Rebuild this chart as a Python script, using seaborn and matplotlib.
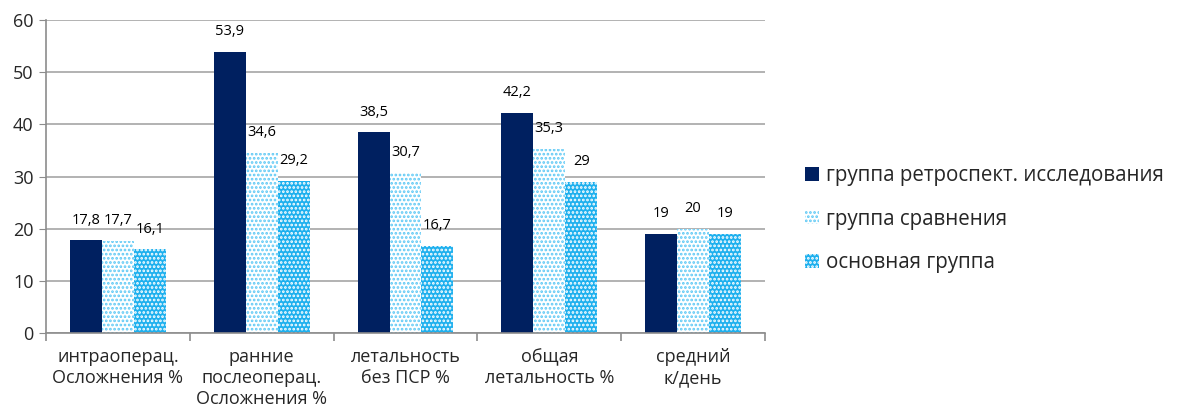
import matplotlib
matplotlib.use("Agg")
import matplotlib.pyplot as plt
import numpy as np
import pandas as pd
import seaborn as sns
from matplotlib.patches import Patch

categories = [
    "интраоперац.\nОсложнения %",
    "ранние\nпослеоперац.\nОсложнения %",
    "летальность\nбез ПСР %",
    "общая\nлетальность %",
    "средний\nк/день",
]
groups = ["группа ретроспект. исследования", "группа сравнения", "основная группа"]
retro = [17.8, 53.9, 38.5, 42.2, 19]
compare = [17.7, 34.6, 30.7, 35.3, 20]
main = [16.1, 29.2, 16.7, 29, 19]
value_labels = [
    ["17,8", "53,9", "38,5", "42,2", "19"],
    ["17,7", "34,6", "30,7", "35,3", "20"],
    ["16,1", "29,2", "16,7", "29", "19"],
]

df = pd.DataFrame({
    "category": categories * 3,
    "group": [g for g in groups for _ in categories],
    "value": retro + compare + main,
})

sns.set_style("white")
plt.rcParams["font.family"] = ["Open Sans", "DejaVu Sans"]
plt.rcParams["hatch.linewidth"] = 1.3

fig = plt.figure(figsize=(11.81, 4.19), dpi=100)
ax = fig.add_axes([46 / 1181, 1 - 333 / 419, (765 - 46) / 1181, (333 - 20) / 419])

face = ["#002060", "#ffffff", "#1eb0ee"]
edge = ["#002060", "#5cc8f5", "#ffffff"]
hatch = [None, "....", "...."]

sns.barplot(data=df, x="category", y="value", hue="group", hue_order=groups,
            width=0.667, gap=0, palette=face, ax=ax, legend=False, saturation=1)

for i, cont in enumerate(ax.containers):
    for j, bar in enumerate(cont):
        bar.set_facecolor(face[i])
        bar.set_edgecolor(edge[i])
        bar.set_linewidth(0)
        if hatch[i]:
            bar.set_hatch(hatch[i])
        ax.annotate(value_labels[i][j], (bar.get_x() + bar.get_width() / 2, bar.get_height()),
                    xytext=(0, 9), textcoords="offset points", ha="center", va="bottom",
                    fontsize=10.5, color="#000000")

ax.set_ylim(0, 60)
ax.set_xlim(-0.5, len(categories) - 0.5)
ax.set_yticks(np.arange(0, 61, 10))
ax.yaxis.grid(True, color="#a6a6a6", linewidth=1.2)
ax.set_axisbelow(True)
for s in ["top", "right"]:
    ax.spines[s].set_visible(False)
for s in ["left", "bottom"]:
    ax.spines[s].set_color("#8c8c8c")
    ax.spines[s].set_linewidth(1.2)
ax.set_xlabel("")
ax.set_ylabel("")
ax.tick_params(axis="y", left=True, length=5, color="#8c8c8c", labelsize=13, pad=4)
ax.tick_params(axis="x", which="major", length=0, labelsize=13, pad=11)
ax.set_xticks(np.arange(-0.5, len(categories)), minor=True)
ax.tick_params(axis="x", which="minor", bottom=True, length=6, color="#8c8c8c", width=1.2)
ax.set_xticks(range(len(categories)))
ax.set_xticklabels(categories, linespacing=1.2)

handles = [Patch(facecolor=face[i], edgecolor=edge[i], hatch=hatch[i], linewidth=0) for i in range(3)]
fig.legend(handles, groups, loc="upper left", bbox_to_anchor=(797 / 1181, 1 - 157 / 419),
           frameon=False, fontsize=14.8, handlelength=0.65, handleheight=0.65,
           handletextpad=0.35, labelspacing=1.1, borderaxespad=0)

fig.savefig("out.png", dpi=100)
